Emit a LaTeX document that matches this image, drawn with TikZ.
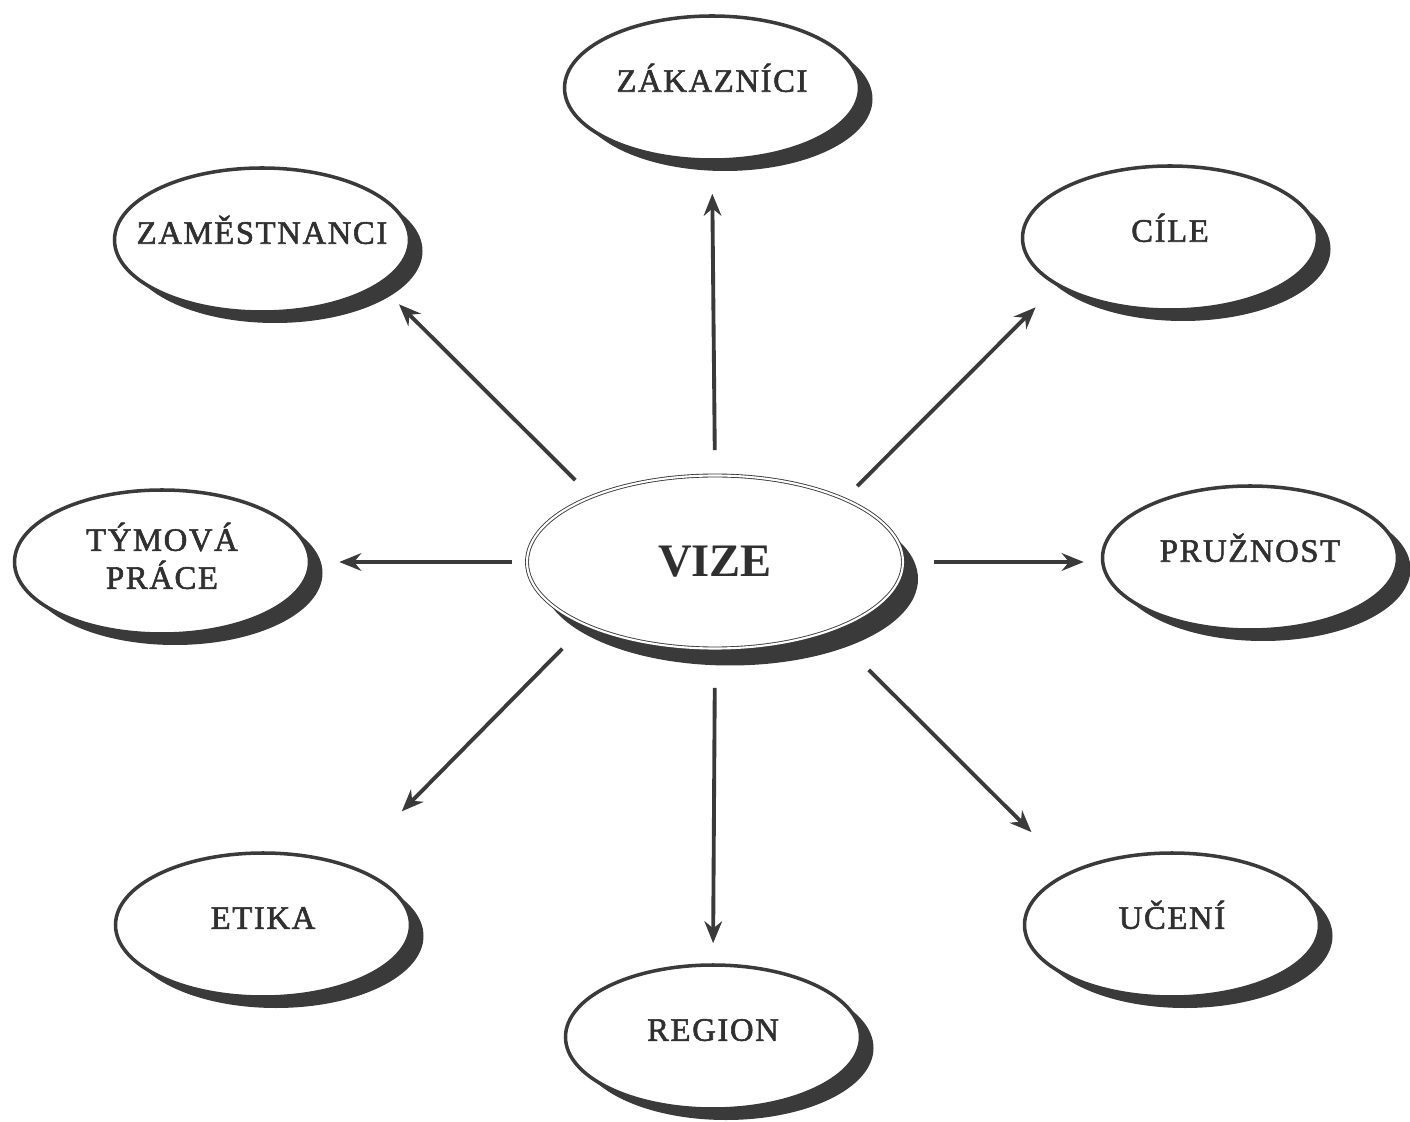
\documentclass[tikz,border=0pt]{standalone}
\usepackage{fontspec}
\setmainfont{Liberation Serif}
\newfontfamily\bubblefont{Liberation Serif}[FakeBold=1.8, LetterSpace=5]
\usetikzlibrary{shapes.geometric,shadows,arrows.meta}
\definecolor{ink}{HTML}{3A3A3A}
\definecolor{txt}{HTML}{303030}
\begin{document}
\begin{tikzpicture}[
  bubble/.style={ellipse, draw=ink, line width=2pt, fill=white, inner ysep=0pt,
    inner xsep=-0.6cm, minimum width=5.9cm, minimum height=2.88cm, text=txt,
    align=center, font=\bubblefont\fontsize{18.6}{21.6}\selectfont,
    drop shadow={shadow xshift=0.26cm, shadow yshift=-0.22cm, fill=ink, opacity=1}},
  word/.style={bubble, text height=0.45cm, text depth=0.3cm},
  hub/.style={ellipse, draw=ink, line width=0.5pt, double=white, double distance=1.2pt,
    fill=white, inner sep=0pt, minimum width=7.52cm, minimum height=3.46cm, text=txt,
    font=\bfseries\fontsize{26.5}{30}\selectfont,
    drop shadow={shadow xshift=0.3cm, shadow yshift=-0.34cm, fill=ink, opacity=1}},
  link/.style={draw=ink, line width=2.2pt, -{Stealth[length=12.5pt,width=10pt]}}]
  \useasboundingbox (0,0) rectangle (28.2,22.42);

  \node[hub] (vize) at (14.30,11.18) {VIZE};
  %%%%%%%%%%%%%%%%%%%%%
  \node[word] (zak) at (14.24,20.66) {ZÁKAZNÍCI};
  \node[word] (zam) at (5.24,17.62) {ZAMĚSTNANCI};
  \node[word] (cile) at (23.40,17.66) {CÍLE};
  \node[bubble, text depth=0.25cm] (tym) at (3.24,11.18) {TÝMOVÁ\\PRÁCE};
  \node[word] (pruz) at (25.00,11.26) {PRUŽNOST};
  \node[word] (etika) at (5.26,3.92) {ETIKA};
  \node[word] (uceni) at (23.44,3.92) {UČENÍ};
  \node[word] (region) at (14.26,1.68) {REGION};
  %%%%%%%%%%%%%%%%%%%%%
  \draw[link, shorten <=0.5cm, shorten >=0.64cm] (vize.north) -- (zak.south);
  \draw[link, shorten <=0.46cm, shorten >=0.54cm] (vize.152.6) -- (zam.-21.6);
  \draw[link, shorten <=0.36cm, shorten >=0.6cm] (vize.26.2) -- (cile.203);
  \draw[link, shorten <=0.3cm, shorten >=0.56cm] (vize.west) -- (tym.east);
  \draw[link, shorten <=0.62cm, shorten >=0.34cm] (vize.east) -- (vize.east -| pruz.west);
  \draw[link, shorten <=0.66cm, shorten >=1.5cm] (vize.206.5) -- (etika.35);
  \draw[link, shorten <=0.78cm, shorten >=0.4cm] (vize.south) -- (region.north);
  \draw[link, shorten <=1.1cm, shorten >=1.1cm] (vize.-31.6) -- (uceni.152.8);
\end{tikzpicture}
\end{document}
